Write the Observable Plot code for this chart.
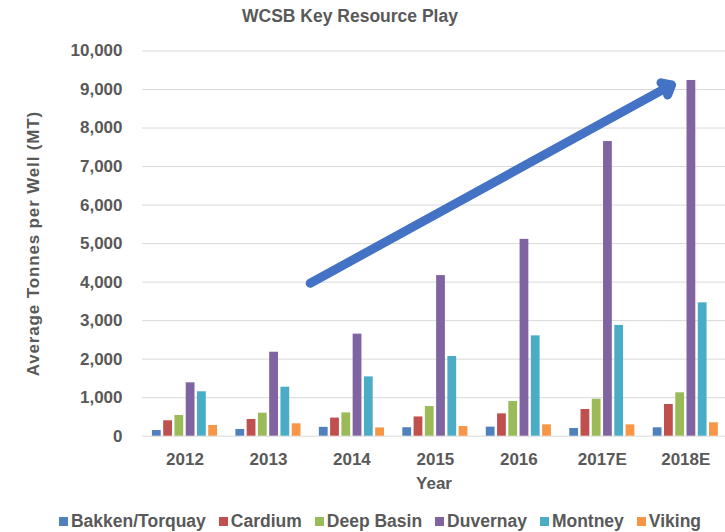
<!DOCTYPE html>
<html>
<head>
<meta charset="utf-8">
<script src="https://cdn.jsdelivr.net/npm/d3@7"></script>
<script src="https://cdn.jsdelivr.net/npm/@observablehq/plot@0.6"></script>
<style>
  html, body { margin: 0; padding: 0; background: #fff; }
  #wrap { position: relative; width: 725px; height: 532px; font-family: "Liberation Sans", Arial, sans-serif; color: #595959; overflow: hidden; }
  #title { position: absolute; left: 0; width: 700px; top: 6px; text-align: center; font-size: 17.5px; font-weight: bold; }
  #plot { position: absolute; left: 0; top: 34px; }
  #legend { position: absolute; left: 0; width: 760px; top: 511px; display: flex; justify-content: center; font-size: 17.5px; font-weight: bold; white-space: nowrap; }
  .item { display: flex; align-items: center; margin: 0 6.5px; }
  .sw { width: 9px; height: 9px; margin-right: 3px; }
  g[aria-label="y-axis label"] text { letter-spacing: 0.85px; }
</style>
</head>
<body>
<div id="wrap">
  <div id="title">WCSB Key Resource Play</div>
  <div id="plot"></div>
  <div id="legend"></div>
</div>
<script>
// ---- data ----
const years = ["2012", "2013", "2014", "2015", "2016", "2017E", "2018E"];
const series = ["Bakken/Torquay", "Cardium", "Deep Basin", "Duvernay", "Montney", "Viking"];
const bakken    = [148, 174, 230, 220, 235, 200, 218];
const cardium   = [400, 434, 470, 500, 580, 693, 823];
const deepBasin = [537, 597, 605, 770, 900, 960, 1127];
const duvernay  = [1386, 2180, 2650, 4170, 5110, 7650, 9235];
const montney   = [1153, 1272, 1540, 2070, 2605, 2875, 3463];
const viking    = [278, 322, 215, 250, 295, 295, 348];
const yTicks = [0, 1000, 2000, 3000, 4000, 5000, 6000, 7000, 8000, 9000, 10000];
// trend arrow annotation (year position, tonnes)
const arrowStart = {pos: 1.5, value: 3970};
const arrowEnd = {pos: 5.83, value: 9120};

const colors = ["#4F81BD", "#C0504D", "#9BBB59", "#8064A2", "#4BACC6", "#F79646"];
const valuesBySeries = [bakken, cardium, deepBasin, duvernay, montney, viking];

const data = years.flatMap((year, i) =>
  series.map((s, j) => ({year, i, series: s, value: valuesBySeries[j][i]})));

const sub = d3.scaleBand(series, [-0.39, 0.39]).paddingInner(0.22);

const chart = Plot.plot({
  width: 725,
  height: 468,
  marginLeft: 142,
  marginRight: 0,
  marginTop: 16.5,
  marginBottom: 66.3,
  style: {fontFamily: "'Liberation Sans', Arial, sans-serif", color: "#595959", background: "transparent"},
  x: {domain: [-0.5, 6.5], range: [142.75, 727]},
  y: {domain: [0, 10000]},
  color: {domain: series, range: colors},
  marks: [
    Plot.ruleY(yTicks, {stroke: "#d9d9d9", strokeWidth: 1}),
    Plot.rectY(data, {
      x1: d => d.i + sub(d.series),
      x2: d => d.i + sub(d.series) + sub.bandwidth(),
      y1: 0,
      y2: "value",
      fill: "series"
    }),
    Plot.arrow([{}], {
      x1: () => arrowStart.pos, y1: () => arrowStart.value,
      x2: () => arrowEnd.pos, y2: () => arrowEnd.value,
      stroke: "#4472C4", strokeWidth: 9, headLength: 1.8, headAngle: 80
    }),
    Plot.axisY({
      ticks: yTicks, tickFormat: d3.format(","), tickSize: 0, tickPadding: 20,
      fontSize: 17, fontWeight: "bold",
      label: "Average Tonnes per Well (MT)", labelAnchor: "center", labelOffset: 116, labelArrow: "none"
    }),
    Plot.axisX({
      ticks: d3.range(years.length), tickFormat: i => years[i], tickSize: 0, tickPadding: 17,
      fontSize: 17, fontWeight: "bold",
      label: "Year", labelAnchor: "center", labelOffset: 53, labelArrow: "none"
    })
  ]
});
document.getElementById("plot").appendChild(chart);

const legend = document.getElementById("legend");
series.forEach((s, j) => {
  const item = document.createElement("div");
  item.className = "item";
  const sw = document.createElement("span");
  sw.className = "sw";
  sw.style.background = colors[j];
  const t = document.createElement("span");
  t.textContent = s;
  item.appendChild(sw);
  item.appendChild(t);
  legend.appendChild(item);
});
</script>
</body>
</html>
